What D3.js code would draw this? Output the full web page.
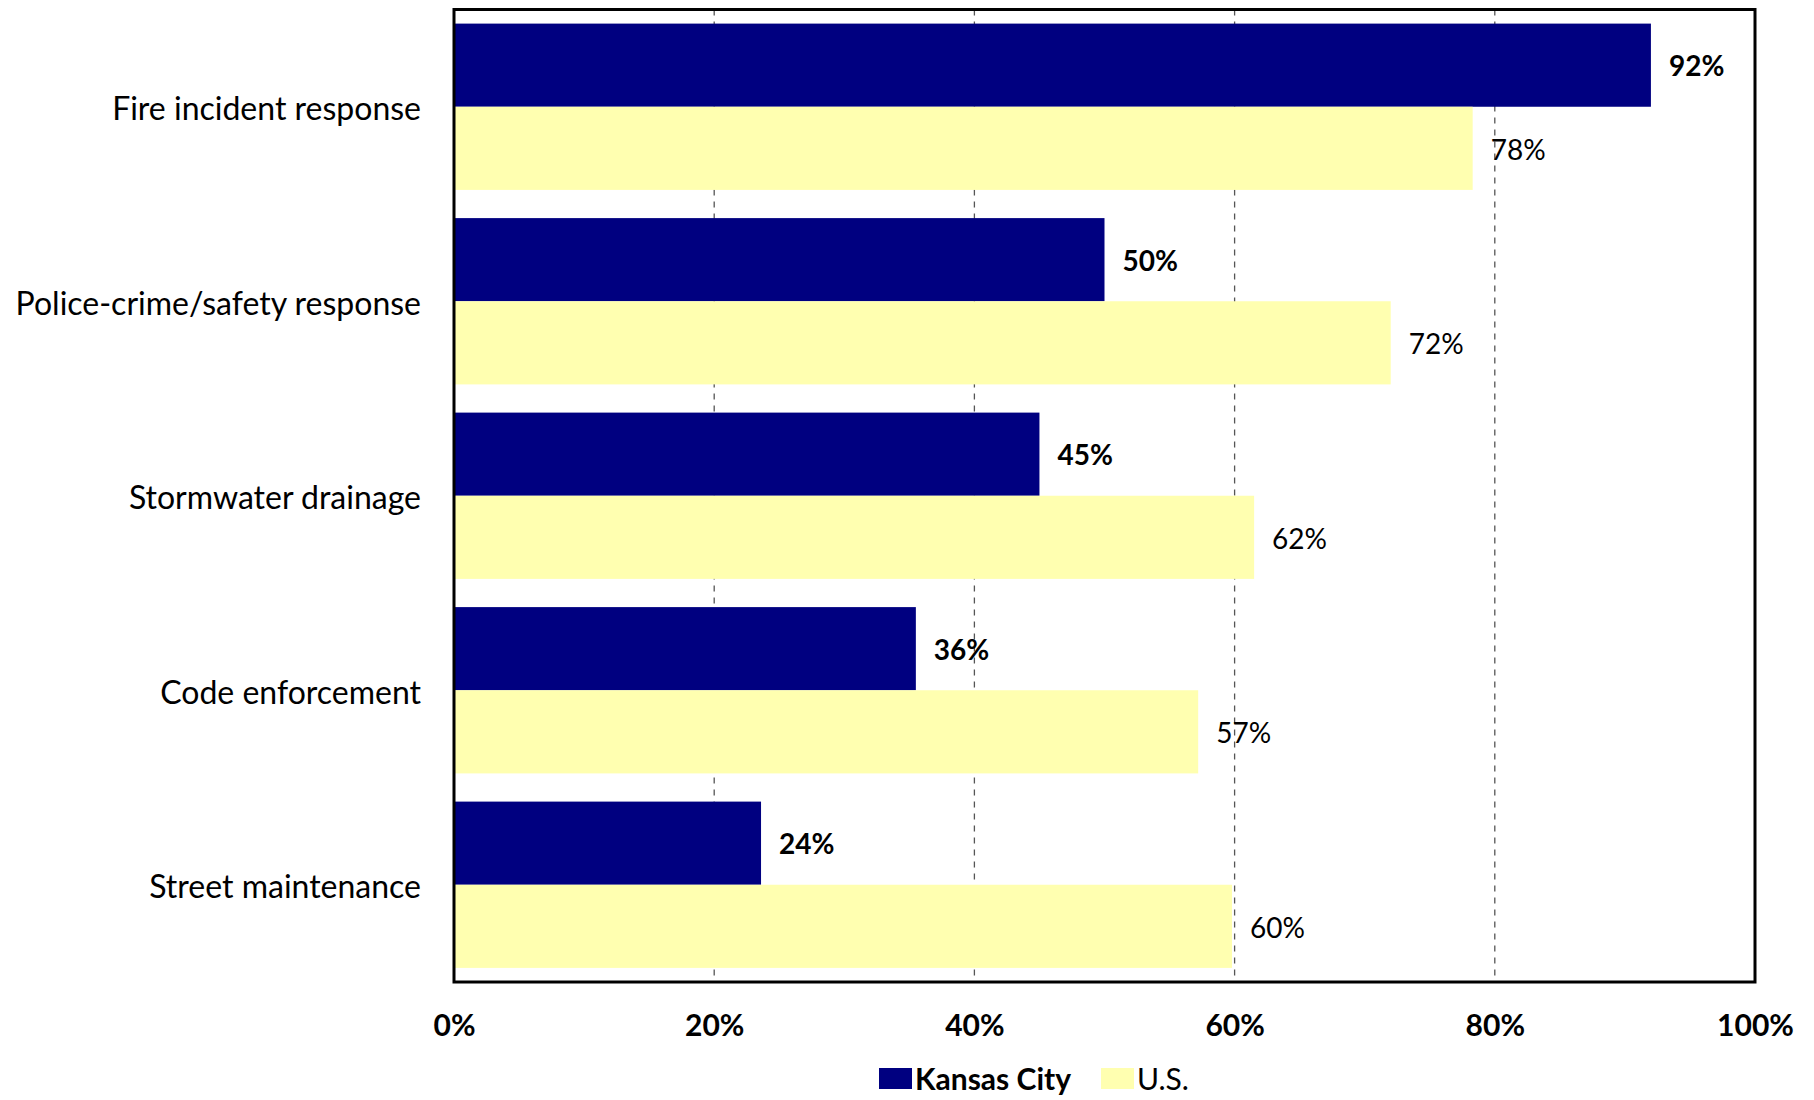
<!DOCTYPE html>
<html>
<head>
<meta charset="utf-8">
<script src="https://cdn.jsdelivr.net/npm/d3@7"></script>
<style>
  body { margin: 0; background: #fff; }
  svg { display: block; font-family: Lato, "Open Sans", sans-serif; }
  .axis .domain { display: none; }
  .axis .tick line { display: none; }
</style>
</head>
<body>
<svg id="chart"></svg>
<script>
// Data
const categories = ['Fire incident response', 'Police-crime/safety response', 'Stormwater drainage', 'Code enforcement', 'Street maintenance'];
const seriesNames = ['Kansas City', 'U.S.'];
const kansasCity = [92, 50, 45, 35.5, 23.6];
const us = [78.3, 72, 61.5, 57.2, 59.8];
const xTicks = [0, 20, 40, 60, 80, 100];
const colors = ['#000080', '#FFFFB0'];

const width = 1814, height = 1100;
const margin = { top: 9.5, right: 59, bottom: 118, left: 454 };
const innerW = width - margin.left - margin.right;
const innerH = height - margin.top - margin.bottom;

const rows = categories.map((c, i) => ({ cat: c, values: [kansasCity[i], us[i]] }));

const svg = d3.select('#chart')
  .attr('width', width)
  .attr('height', height);

const chart = svg.append('g')
  .attr('transform', `translate(${margin.left},${margin.top})`);

const xScale = d3.scaleLinear().domain([0, 100]).range([0, innerW]);

const yScale = d3.scaleBand()
  .domain(categories)
  .range([0, innerH])
  .paddingInner(0.145)
  .paddingOuter(0.0725);

const subScale = d3.scaleBand()
  .domain(seriesNames)
  .range([0, yScale.bandwidth()]);

// dashed gridlines
chart.selectAll('.grid')
  .data(xTicks.filter(t => t > 0 && t < 100))
  .join('line')
  .attr('class', 'grid')
  .attr('x1', d => xScale(d))
  .attr('x2', d => xScale(d))
  .attr('y1', 0)
  .attr('y2', innerH)
  .attr('stroke', '#555')
  .attr('stroke-width', 1.3)
  .attr('stroke-dasharray', '6,6');

// bars
const groups = chart.selectAll('.cat')
  .data(rows)
  .join('g')
  .attr('class', 'cat')
  .attr('transform', d => `translate(0,${yScale(d.cat)})`);

groups.selectAll('rect')
  .data(d => d.values.map((v, j) => ({ series: seriesNames[j], value: v, j })))
  .join('rect')
  .attr('x', 0)
  .attr('y', d => subScale(d.series))
  .attr('width', d => xScale(d.value))
  .attr('height', subScale.bandwidth())
  .attr('fill', d => colors[d.j]);

groups.selectAll('.val')
  .data(d => d.values.map((v, j) => ({ series: seriesNames[j], value: v, j })))
  .join('text')
  .attr('class', 'val')
  .attr('x', d => xScale(d.value) + 18)
  .attr('y', d => subScale(d.series) + subScale.bandwidth() / 2)
  .attr('dy', '0.4em')
  .attr('font-size', 28)
  .attr('font-weight', d => d.j === 0 ? 'bold' : 'normal')
  .attr('fill', '#000')
  .text(d => Math.round(d.value) + '%');

// frame
chart.append('rect')
  .attr('width', innerW)
  .attr('height', innerH)
  .attr('fill', 'none')
  .attr('stroke', '#000')
  .attr('stroke-width', 3);

// axes
const xAxis = d3.axisBottom(xScale)
  .tickValues(xTicks)
  .tickFormat(d => d + '%')
  .tickSize(0)
  .tickPadding(33);

chart.append('g')
  .attr('class', 'axis x-axis')
  .attr('transform', `translate(0,${innerH})`)
  .call(xAxis)
  .selectAll('text')
  .attr('font-size', 30)
  .attr('font-weight', 'bold')
  .attr('font-family', 'Lato, sans-serif')
  .attr('fill', '#000');

const yAxis = d3.axisLeft(yScale)
  .tickSize(0)
  .tickPadding(33);

chart.append('g')
  .attr('class', 'axis y-axis')
  .call(yAxis)
  .selectAll('text')
  .attr('dy', '0.42em')
  .attr('font-size', 32)
  .attr('font-family', 'Lato, sans-serif')
  .attr('fill', '#000');

// legend
const legend = svg.append('g')
  .attr('transform', `translate(879,1068)`);

const legendX = [0, 222];
seriesNames.forEach((name, i) => {
  const item = legend.append('g').attr('transform', `translate(${legendX[i]},0)`);
  item.append('rect')
    .attr('width', 33)
    .attr('height', 21)
    .attr('fill', colors[i]);
  item.append('text')
    .attr('x', 36)
    .attr('y', 11)
    .attr('dy', '0.36em')
    .attr('font-size', 30)
    .attr('font-weight', i === 0 ? 'bold' : 'normal')
    .attr('fill', '#000')
    .text(name);
});
</script>
</body>
</html>
